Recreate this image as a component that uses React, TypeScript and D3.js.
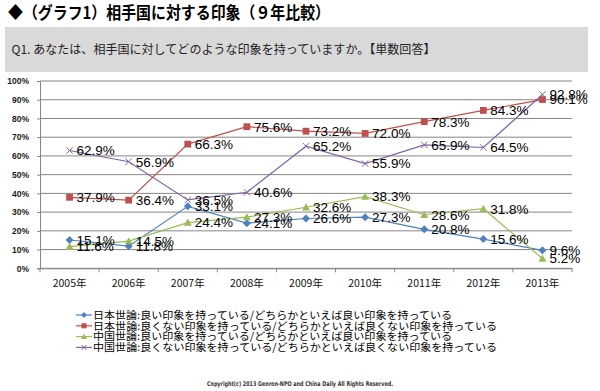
import React, { useEffect, useRef } from "react";
import * as d3 from "d3";

// data
const years = ["2005年", "2006年", "2007年", "2008年", "2009年", "2010年", "2011年", "2012年", "2013年"];
const japanGood = [15.1, 11.8, 33.1, 24.1, 26.6, 27.3, 20.8, 15.6, 9.6];
const japanBad = [37.9, 36.4, 66.3, 75.6, 73.2, 72.0, 78.3, 84.3, 90.1];
const chinaGood = [11.6, 14.5, 24.4, 27.3, 32.6, 38.3, 28.6, 31.8, 5.2];
const chinaBad = [62.9, 56.9, 36.5, 40.6, 65.2, 55.9, 65.9, 64.5, 92.8];
const yTicks = [0, 10, 20, 30, 40, 50, 60, 70, 80, 90, 100];

const seriesNames = [
  "日本世論:良い印象を持っている/どちらかといえば良い印象を持っている",
  "日本世論:良くない印象を持っている/どちらかといえば良くない印象を持っている",
  "中国世論:良い印象を持っている/どちらかといえば良い印象を持っている",
  "中国世論:良くない印象を持っている/どちらかといえば良くない印象を持っている",
];

const title = "◆（グラフ1）相手国に対する印象（９年比較）";
const question = "Q1. あなたは、相手国に対してどのような印象を持っていますか。【単数回答】";
const copyright = "Copyright(c) 2013 Genron-NPO and China Daily All Rights Reserved.";

const W = 600;
const H = 391;
const plot = { left: 40, right: 572, top: 81, bottom: 268.3 };

const colors = ["#4F81BD", "#C0504D", "#9BBB59", "#8064A2"];
const markers = ["diamond", "square", "triangle", "cross"];
const jpFont = "'Noto Sans CJK JP', sans-serif";
const numFont = "'Liberation Sans', Arial, sans-serif";

type Sel = d3.Selection<SVGGElement, unknown, null, undefined>;

// draws one marker centred at (x, y)
const drawMarker = (g: Sel, kind: string, x: number, y: number, color: string, s: number) => {
  if (kind === "diamond") {
    g.append("path")
      .attr("d", `M${x},${y - s}L${x + s},${y}L${x},${y + s}L${x - s},${y}Z`)
      .attr("fill", color);
  } else if (kind === "square") {
    g.append("rect")
      .attr("x", x - s * 0.85)
      .attr("y", y - s * 0.85)
      .attr("width", s * 1.7)
      .attr("height", s * 1.7)
      .attr("fill", color);
  } else if (kind === "triangle") {
    g.append("path")
      .attr("d", `M${x},${y - s}L${x + s},${y + s * 0.8}L${x - s},${y + s * 0.8}Z`)
      .attr("fill", color);
  } else {
    const c = s * 0.8;
    g.append("path")
      .attr("d", `M${x - c},${y - c}L${x + c},${y + c}M${x - c},${y + c}L${x + c},${y - c}`)
      .attr("stroke", color)
      .attr("stroke-width", 1);
  }
};

const App: React.FC = () => {
  const svgRef = useRef<SVGSVGElement | null>(null);

  useEffect(() => {
    if (!svgRef.current) return;
    const svg = d3.select(svgRef.current);
    svg.selectAll("*").remove();

    svg.append("rect").attr("width", W).attr("height", H).attr("fill", "#fff");

    // title and question box
    svg
      .append("text")
      .attr("x", 8)
      .attr("y", 19)
      .attr("font-family", jpFont)
      .attr("font-weight", "bold")
      .attr("font-size", 16.5)
      .attr("textLength", 322)
      .attr("lengthAdjust", "spacingAndGlyphs")
      .text(title);

    svg.append("rect").attr("x", 5).attr("y", 27).attr("width", 583).attr("height", 45).attr("fill", "#D9D9D9");
    svg
      .append("text")
      .attr("x", 11.5)
      .attr("y", 53.5)
      .attr("font-family", jpFont)
      .attr("font-size", 12)
      .attr("fill", "#222")
      .attr("textLength", 424)
      .attr("lengthAdjust", "spacingAndGlyphs")
      .text(question);

    const x = d3.scaleBand().domain(years).range([plot.left, plot.right]);
    const y = d3.scaleLinear().domain([0, 100]).range([plot.bottom, plot.top]);

    const g = svg.append("g") as Sel;

    // gridlines
    g.append("g")
      .selectAll("line")
      .data(yTicks)
      .enter()
      .append("line")
      .attr("x1", plot.left)
      .attr("x2", plot.right)
      .attr("y1", (d) => y(d))
      .attr("y2", (d) => y(d))
      .attr("stroke", "#868686")
      .attr("stroke-width", 1);

    // y axis
    const yAxis = g
      .append("g")
      .attr("transform", `translate(${plot.left},0)`)
      .call(
        d3
          .axisLeft(y)
          .tickValues(yTicks)
          .tickSize(3)
          .tickPadding(8)
          .tickFormat((d) => `${d}%`)
      );
    yAxis.select(".domain").attr("stroke", "#868686");
    yAxis.selectAll(".tick line").attr("stroke", "#868686");
    yAxis
      .selectAll(".tick text")
      .attr("font-family", numFont)
      .attr("font-size", 8.5)
      .attr("font-weight", "bold")
      .attr("fill", "#1a1a1a");

    // x axis with ticks at band edges
    const xAxis = g
      .append("g")
      .attr("transform", `translate(0,${plot.bottom})`)
      .call(d3.axisBottom(x).tickSize(0).tickPadding(11));
    xAxis.select(".domain").attr("stroke", "#868686");
    xAxis
      .selectAll(".tick text")
      .attr("font-family", jpFont)
      .attr("font-size", 10.5)
      .attr("fill", "#111");
    g.append("g")
      .selectAll("line")
      .data(d3.range(years.length + 1))
      .enter()
      .append("line")
      .attr("x1", (i) => plot.left + i * x.step())
      .attr("x2", (i) => plot.left + i * x.step())
      .attr("y1", plot.bottom)
      .attr("y2", plot.bottom + 4)
      .attr("stroke", "#868686");

    const allSeries = [japanGood, japanBad, chinaGood, chinaBad];
    const cx = (i: number) => (x(years[i]) as number) + x.bandwidth() / 2;

    const line = d3
      .line<number>()
      .x((_, i) => cx(i))
      .y((d) => y(d));

    allSeries.forEach((vals, si) => {
      g.append("path")
        .attr("d", line(vals)!)
        .attr("fill", "none")
        .attr("stroke", colors[si])
        .attr("stroke-width", 1.2);
    });

    allSeries.forEach((vals, si) => {
      const mg = g.append("g") as Sel;
      vals.forEach((v, i) => drawMarker(mg, markers[si], cx(i), y(v), colors[si], 4));
    });

    // data labels, right of each point
    allSeries.forEach((vals) => {
      g.append("g")
        .selectAll("text")
        .data(vals)
        .enter()
        .append("text")
        .attr("x", (_, i) => cx(i) + 7)
        .attr("y", (d) => y(d))
        .attr("dy", "0.36em")
        .attr("font-family", numFont)
        .attr("font-size", 13.5)
        .attr("fill", "#000")
        .text((d) => `${d.toFixed(1)}%`);
    });

    // legend
    const legend = svg.append("g") as Sel;
    seriesNames.forEach((name, si) => {
      const ly = 315 + si * 10.8;
      legend
        .append("line")
        .attr("x1", 76)
        .attr("x2", 92)
        .attr("y1", ly)
        .attr("y2", ly)
        .attr("stroke", colors[si])
        .attr("stroke-width", 1.2);
      drawMarker(legend, markers[si], 84, ly, colors[si], 3);
      legend
        .append("text")
        .attr("x", 93)
        .attr("y", ly)
        .attr("dy", "0.36em")
        .attr("font-family", jpFont)
        .attr("font-size", 10.5)
        .attr("fill", "#000")
        .attr("textLength", si % 2 === 0 ? 359 : 404)
        .attr("lengthAdjust", "spacingAndGlyphs")
        .text(name);
    });

    svg
      .append("text")
      .attr("x", 207)
      .attr("y", 386)
      .attr("font-family", "'DejaVu Sans', sans-serif")
      .attr("font-size", 6.5)
      .attr("font-weight", "bold")
      .attr("fill", "#333")
      .attr("textLength", 186)
      .attr("lengthAdjust", "spacingAndGlyphs")
      .text(copyright);
  }, []);

  return (
    <svg
      ref={svgRef}
      width={W}
      height={H}
      style={{ position: "absolute", left: 0, top: 0 }}
    />
  );
};

export default App;
